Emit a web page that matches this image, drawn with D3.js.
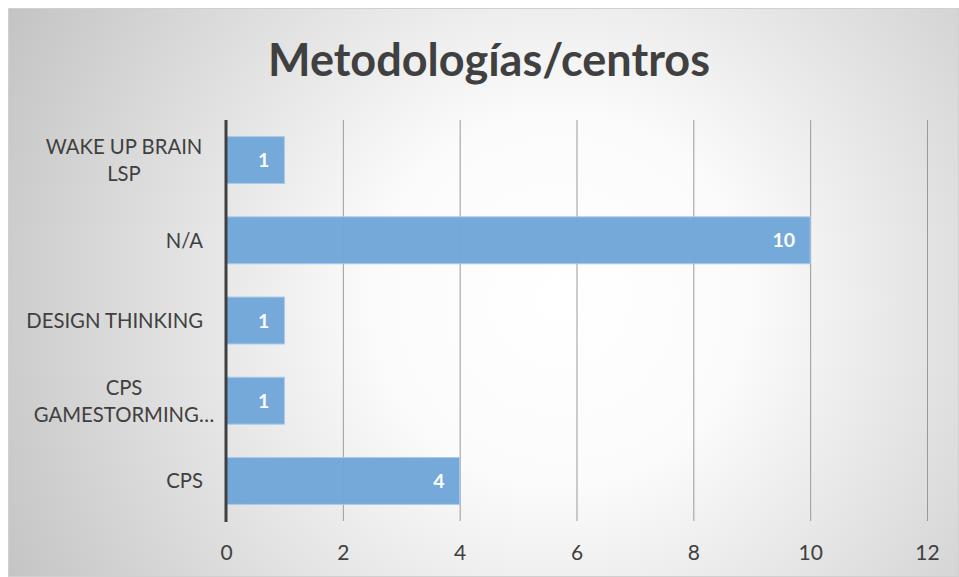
<!DOCTYPE html>
<html>
<head>
<meta charset="utf-8">
<script src="https://cdn.jsdelivr.net/npm/d3@7/dist/d3.min.js"></script>
<style>
  html, body { margin: 0; padding: 0; background: #fff; }
  svg { display: block; }
</style>
</head>
<body>
<svg id="chart" width="959" height="577"></svg>
<script>
// Categories listed top to bottom, with wrapped label lines
const categories = ["WAKE UP BRAIN LSP", "N/A", "DESIGN THINKING", "CPS GAMESTORMING…", "CPS"];
const labelLines = [["WAKE UP BRAIN", "LSP"], ["N/A"], ["DESIGN THINKING"], ["CPS", "GAMESTORMING…"], ["CPS"]];
const values = [1, 10, 1, 1, 4];
const xTicks = [0, 2, 4, 6, 8, 10, 12];
const title = "Metodologías/centros";

const W = 959, H = 577;
const svg = d3.select("#chart");
const font = "Lato, 'Open Sans', sans-serif";

// Soft radial background
const defs = svg.append("defs");
const grad = defs.append("radialGradient")
  .attr("id", "bg").attr("gradientUnits", "userSpaceOnUse")
  .attr("cx", 560).attr("cy", 300).attr("r", 620);
grad.append("stop").attr("offset", "0%").attr("stop-color", "#ffffff");
grad.append("stop").attr("offset", "30%").attr("stop-color", "#fbfbfb");
grad.append("stop").attr("offset", "100%").attr("stop-color", "#c4c4c4");

svg.append("rect").attr("x", 8.5).attr("y", 8.5).attr("width", W - 9).attr("height", H - 9)
  .attr("fill", "url(#bg)").attr("stroke", "#d0d0d0").attr("stroke-width", 1);

const plot = { left: 226, right: 927, top: 120, bottom: 521 };

const x = d3.scaleLinear().domain([0, 12]).range([plot.left, plot.right]);
const y = d3.scaleBand().domain(categories).range([plot.top, plot.bottom])
  .paddingInner(0.415).paddingOuter(0.207);

// Vertical gridlines
svg.append("g").selectAll("line").data(xTicks.filter(t => t > 0)).join("line")
  .attr("x1", d => x(d) + 0.5).attr("x2", d => x(d) + 0.5)
  .attr("y1", plot.top).attr("y2", plot.bottom)
  .attr("stroke", "#9a9a9a").attr("stroke-width", 1);

// Bars
svg.append("g").selectAll("rect").data(values).join("rect")
  .attr("x", x(0))
  .attr("y", (d, i) => y(categories[i]))
  .attr("width", d => x(d) - x(0))
  .attr("height", y.bandwidth())
  .attr("fill", "#6fa6d9").attr("fill-opacity", 0.97)
  .attr("stroke", "#a9caea").attr("stroke-width", 1);

// Value labels inside bar ends
svg.append("g").selectAll("text").data(values).join("text")
  .attr("x", d => x(d) - 15)
  .attr("y", (d, i) => y(categories[i]) + y.bandwidth() / 2)
  .attr("dy", "0.36em")
  .attr("text-anchor", "end")
  .attr("font-family", font).attr("font-weight", "bold").attr("font-size", 19.5)
  .attr("fill", "#ffffff")
  .text(d => d);

// Category axis line
svg.append("line")
  .attr("x1", x(0)).attr("x2", x(0))
  .attr("y1", plot.top).attr("y2", plot.bottom + 1)
  .attr("stroke", "#404040").attr("stroke-width", 3);

// Value axis tick labels
const xAxis = d3.axisBottom(x).tickValues(xTicks).tickSize(0).tickPadding(0);
const gx = svg.append("g").attr("transform", `translate(0,${plot.bottom + 23})`).call(xAxis);
gx.select(".domain").remove();
gx.selectAll("text")
  .attr("font-family", font).attr("font-size", 21).attr("fill", "#404040")
  .attr("dy", "0.75em");

// Category labels
const gy = svg.append("g");
labelLines.forEach((lines, i) => {
  const cy = y(categories[i]) + y.bandwidth() / 2;
  const lh = 27;
  const multi = lines.length > 1;
  const t = gy.append("text")
    .attr("font-family", font).attr("font-size", 20.3).attr("fill", "#404040")
    .attr("text-anchor", multi ? "middle" : "end");
  lines.forEach((ln, j) => {
    t.append("tspan")
      .attr("x", multi ? 124 : 203)
      .attr("y", cy + (j - (lines.length - 1) / 2) * lh)
      .attr("dy", "0.36em")
      .text(ln);
  });
});

// Title
svg.append("text")
  .attr("x", 489).attr("y", 76)
  .attr("text-anchor", "middle")
  .attr("font-family", font).attr("font-weight", "bold").attr("font-size", 45)
  .attr("fill", "#404040")
  .text(title);
</script>
</body>
</html>
